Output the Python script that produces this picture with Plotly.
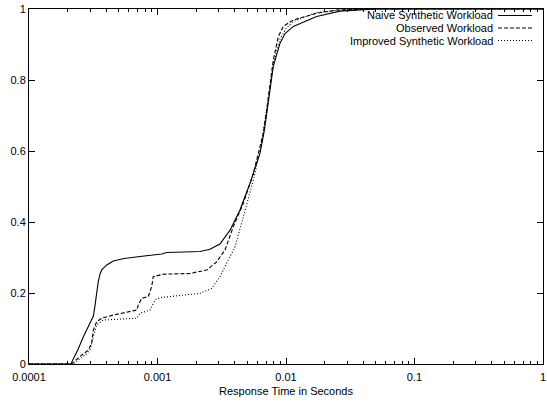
import plotly.graph_objects as go

# ---- data (response time in seconds, cumulative fraction) ----
naive_x = [1e-4, 2.1e-4, 2.15e-4, 2.4e-4, 2.65e-4, 2.85e-4, 2.98e-4, 3.08e-4, 3.17e-4, 3.25e-4, 3.36e-4,
           3.46e-4, 3.58e-4, 3.68e-4, 3.85e-4, 4.03e-4, 4.53e-4, 5.5e-4, 7.31e-4, 9.5e-4, 1.08e-3, 1.18e-3,
           1.5e-3, 2.14e-3, 2.56e-3, 3.06e-3,
           3.67e-3, 4.38e-3, 5.25e-3, 6.28e-3, 6.8e-3, 7.3e-3, 7.96e-3, 8.97e-3, 9.82e-3, 1.14e-2,
           1.73e-2, 2.63e-2, 5e-2, 1.0]
naive_y = [0, 0, 0.005, 0.04, 0.077, 0.10, 0.112, 0.122, 0.135, 0.16, 0.199,
           0.232, 0.255, 0.265, 0.272, 0.279, 0.290, 0.297, 0.303, 0.308, 0.310, 0.314,
           0.315, 0.317, 0.323, 0.338,
           0.377, 0.434, 0.509, 0.594, 0.66, 0.74, 0.838, 0.903, 0.931, 0.951,
           0.979, 0.994, 1.0, 1.0]

observed_x = [1e-4, 2.15e-4, 2.49e-4, 2.89e-4, 3.07e-4, 3.17e-4, 3.36e-4, 3.68e-4, 4.53e-4, 6.89e-4,
              7.09e-4, 7.53e-4, 8.48e-4, 9.01e-4, 9.27e-4, 1.11e-3, 1.79e-3, 2.42e-3, 2.89e-3, 3.35e-3,
              3.89e-3, 4.66e-3, 5.57e-3, 6.66e-3, 7.1e-3, 7.96e-3, 8.71e-3, 9.52e-3, 1.14e-2, 1.73e-2,
              2.48e-2, 5e-2, 1.0]
observed_y = [0, 0, 0.021, 0.039, 0.058, 0.096, 0.119, 0.129, 0.138, 0.152,
              0.166, 0.185, 0.190, 0.218, 0.246, 0.253, 0.255, 0.265, 0.288, 0.321,
              0.387, 0.453, 0.537, 0.650, 0.72, 0.856, 0.922, 0.951, 0.969, 0.988,
              0.997, 1.0, 1.0]

improved_x = [1e-4, 2.2e-4, 2.65e-4, 2.98e-4, 3.17e-4, 3.36e-4, 3.79e-4, 6.89e-4, 7.31e-4, 8.74e-4,
              9.57e-4, 1.04e-3, 1.59e-3, 2.14e-3, 2.64e-3, 3.06e-3, 3.56e-3, 4.01e-3, 4.66e-3, 5.57e-3,
              6.47e-3, 7.28e-3, 8.0e-3, 8.97e-3, 1.0e-2, 1.14e-2, 1.73e-2, 2.6e-2, 5e-2, 1.0]
improved_y = [0, 0, 0.021, 0.039, 0.077, 0.110, 0.124, 0.129, 0.143, 0.152,
              0.180, 0.187, 0.194, 0.199, 0.213, 0.246, 0.293, 0.330, 0.415, 0.518,
              0.622, 0.744, 0.85, 0.915, 0.945, 0.965, 0.99, 0.997, 1.0, 1.0]

series_names = ["Naive Synthetic Workload", "Observed Workload", "Improved Synthetic Workload"]
x_tick_vals = [1e-4, 1e-3, 1e-2, 1e-1, 1]
x_tick_text = ["0.0001", "0.001", "0.01", "0.1", "1"]
minor_vals = [m * 10 ** e for e in (-4, -3, -2, -1) for m in range(2, 10)]

dashes = ["solid", "4px,2px", "1px,2px"]
series = [(naive_x, naive_y), (observed_x, observed_y), (improved_x, improved_y)]

fig = go.Figure()
for (xs, ys), name, dash in zip(series, series_names, dashes):
    fig.add_trace(go.Scatter(x=xs, y=ys, mode="lines", name=name, showlegend=False,
                             line=dict(color="black", width=1.1, dash=dash)))

W, H = 547, 402
L, R, T, B = 29, 4, 9, 38
pw, ph = W - L - R, H - T - B

def px(x):
    return (x - L) / pw

def py(y):
    return (H - B - y) / ph

row_y = [15.5, 28, 40.5]
for name, dash, ry in zip(series_names, dashes, row_y):
    fig.add_annotation(x=px(495), y=py(ry), xref="paper", yref="paper", text=name,
                       showarrow=False, xanchor="right", yanchor="middle",
                       font=dict(family="Liberation Sans, Arial", size=11, color="black"))
    fig.add_shape(type="line", xref="paper", yref="paper", x0=px(498), x1=px(532),
                  y0=py(ry), y1=py(ry), line=dict(color="black", width=1, dash=dash))

axis_common = dict(showline=True, linecolor="black", linewidth=1, mirror="ticks",
                   ticks="inside", ticklen=6, tickcolor="black", showgrid=False, zeroline=False,
                   automargin=False,
                   tickfont=dict(family="Liberation Sans, Arial", size=11, color="black"))

fig.update_xaxes(type="log", range=[-4, 0], tickvals=x_tick_vals, ticktext=x_tick_text,
                 ticklabelstandoff=3,
                 minor=dict(tickvals=minor_vals, ticks="inside", ticklen=3, tickcolor="black", showgrid=False),
                 title=dict(text="Response Time in Seconds", standoff=5,
                            font=dict(family="Liberation Sans, Arial", size=11, color="black")),
                 **axis_common)
fig.update_yaxes(range=[0, 1], dtick=0.2, tick0=0, **axis_common)

fig.update_layout(width=W, height=H, margin=dict(l=L, r=R, t=T, b=B),
                  plot_bgcolor="white", paper_bgcolor="white")

fig.write_html("out.html", config={"displayModeBar": False},
               post_script="document.body.style.margin='0';")
